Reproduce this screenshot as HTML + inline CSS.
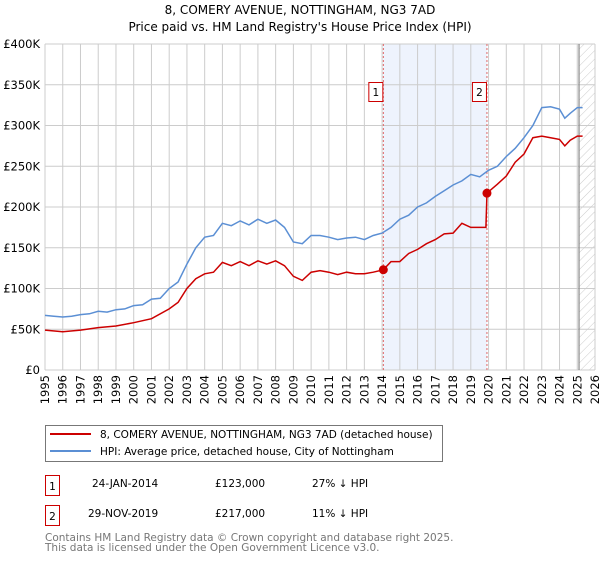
<!DOCTYPE html>
<html><head><meta charset="utf-8"><style>
body{margin:0;background:#fff;font-family:"DejaVu Sans","Liberation Sans",sans-serif;}
svg text{font-family:"DejaVu Sans","Liberation Sans",sans-serif;}
</style></head><body>
<svg id="c" width="600" height="560">
<defs><pattern id="hatch" width="6" height="6" patternUnits="userSpaceOnUse" patternTransform="rotate(45)"><line x1="0" y1="0" x2="0" y2="6" stroke="#ccc" stroke-width="1"/></pattern></defs>
<text x="300" y="14" text-anchor="middle" font-size="12">8, COMERY AVENUE, NOTTINGHAM, NG3 7AD</text>
<text x="300" y="31" text-anchor="middle" font-size="12">Price paid vs. HM Land Registry's House Price Index (HPI)</text>
<g id="plot"></g>
<g>
<rect x="45.5" y="425.5" width="397" height="36" fill="#fff" stroke="#777"/>
<line x1="50" y1="434" x2="91" y2="434" stroke="#cc0000" stroke-width="2"/>
<text x="100" y="438" font-size="10.5">8, COMERY AVENUE, NOTTINGHAM, NG3 7AD (detached house)</text>
<line x1="50" y1="451" x2="91" y2="451" stroke="#5b8fd4" stroke-width="2"/>
<text x="100" y="455" font-size="10.5">HPI: Average price, detached house, City of Nottingham</text>
</g>
<g font-size="10.5">
<rect x="45.5" y="475.5" width="14" height="20" fill="#fff" stroke="#cc0000"/>
<text x="52.5" y="490" text-anchor="middle">1</text>
<text x="92" y="487">24-JAN-2014</text><text x="215" y="487">£123,000</text><text x="312" y="487">27% ↓ HPI</text>
<rect x="45.5" y="505.5" width="14" height="20" fill="#fff" stroke="#cc0000"/>
<text x="52.5" y="520" text-anchor="middle">2</text>
<text x="88" y="517">29-NOV-2019</text><text x="215" y="517">£217,000</text><text x="312" y="517">11% ↓ HPI</text>
</g>
<text x="45" y="541" font-size="10.5" fill="#777">Contains HM Land Registry data © Crown copyright and database right 2025.</text>
<text x="45" y="551" font-size="10.5" fill="#777">This data is licensed under the Open Government Licence v3.0.</text>
</svg>
<script>
const yTicks=[0,50,100,150,200,250,300,350,400];
const yTickLabels=["£0","£50K","£100K","£150K","£200K","£250K","£300K","£350K","£400K"];
const xYears=[1995,1996,1997,1998,1999,2000,2001,2002,2003,2004,2005,2006,2007,2008,2009,2010,2011,2012,2013,2014,2015,2016,2017,2018,2019,2020,2021,2022,2023,2024,2025,2026];
const hpiT=[1995,1995.5,1996,1996.5,1997,1997.5,1998,1998.5,1999,1999.5,2000,2000.5,2001,2001.5,2002,2002.5,2003,2003.5,2004,2004.5,2005,2005.5,2006,2006.5,2007,2007.5,2008,2008.5,2009,2009.5,2010,2010.5,2011,2011.5,2012,2012.5,2013,2013.5,2014,2014.5,2015,2015.5,2016,2016.5,2017,2017.5,2018,2018.5,2019,2019.5,2020,2020.5,2021,2021.5,2022,2022.5,2023,2023.5,2024,2024.3,2024.6,2025,2025.3];
const hpiV=[67,66,65,66,68,69,72,71,74,75,79,80,87,88,100,108,130,150,163,165,180,177,183,178,185,180,184,175,157,155,165,165,163,160,162,163,160,165,168,175,185,190,200,205,213,220,227,232,240,237,245,250,262,272,285,300,322,323,320,309,315,322,322];
const priceT=[1995,1996,1997,1998,1999,2000,2001,2002,2002.5,2003,2003.5,2004,2004.5,2005,2005.5,2006,2006.5,2007,2007.5,2008,2008.5,2009,2009.5,2010,2010.5,2011,2011.5,2012,2012.5,2013,2013.5,2014.07,2014.5,2015,2015.5,2016,2016.5,2017,2017.5,2018,2018.5,2019,2019.85,2019.91,2020.5,2021,2021.5,2022,2022.5,2023,2023.5,2024,2024.3,2024.6,2025,2025.3];
const priceV=[49,47,49,52,54,58,63,75,83,100,112,118,120,132,128,133,128,134,130,134,128,115,110,120,122,120,117,120,118,118,120,123,133,133,143,148,155,160,167,168,180,175,175,217,228,238,255,265,285,287,285,283,275,282,287,287];
const saleT=[2014.07,2019.91];
const saleV=[123,217];
const saleLabels=["1","2"];
const X0=45,X1=595,Y0=370,Y1=44;
const xs=t=>X0+(t-1995)*(X1-X0)/31;
const ys=v=>Y0-v*(Y0-Y1)/400;
const NS="http://www.w3.org/2000/svg";
const g=document.getElementById('plot');
function mk(tag,at){const e=document.createElementNS(NS,tag);for(const k in at)e.setAttribute(k,at[k]);g.appendChild(e);return e;}
let e=mk('rect',{x:xs(saleT[0]),y:Y1,width:xs(saleT[1])-xs(saleT[0]),height:Y0-Y1,fill:'#eef3fd'});


e=mk('rect',{x:xs(2025.1),y:Y1,width:X1-xs(2025.1),height:Y0-Y1,fill:'url(#hatch)'});


yTicks.forEach((v,i)=>{
 const l=mk('line',{x1:X0,x2:X1,y1:ys(v),y2:ys(v),stroke:'#ccc'});
 
 
 const t=mk('text',{x:40,y:ys(v)+4,'text-anchor':'end','font-size':'11.5'});t.textContent=yTickLabels[i];
 
 
});
xYears.forEach(y=>{
 const l=mk('line',{x1:xs(y),x2:xs(y),y1:Y1,y2:Y0,stroke:'#ccc'});
 
 
 const t=mk('text',{x:0,y:0,'text-anchor':'end','font-size':'11.5',transform:`translate(${xs(y)+4},${Y0+5}) rotate(-90)`});t.textContent=y;
 
 
});
e=mk('line',{x1:xs(2025.1),x2:xs(2025.1),y1:Y1,y2:Y0,stroke:'#888','stroke-width':1.2});


saleT.forEach((t,i)=>{
 const l=mk('line',{x1:xs(t),x2:xs(t),y1:Y1,y2:Y0,stroke:'#e06666','stroke-dasharray':'2,2'});
 
 
 const r=mk('rect',{x:xs(t)-14.5,y:82.5,width:14,height:19,fill:'#fff',stroke:'#cc0000'});
 
 
 const tx=mk('text',{x:xs(t)-7.5,y:96,'text-anchor':'middle','font-size':'10.5'});tx.textContent=saleLabels[i];
 
 
});
e=mk('path',{d:hpiT.map((t,i)=>(i?'L':'M')+xs(t).toFixed(1)+','+ys(hpiV[i]).toFixed(1)).join(''),fill:'none',stroke:'#5b8fd4','stroke-width':1.5});


e=mk('path',{d:priceT.map((t,i)=>(i?'L':'M')+xs(t).toFixed(1)+','+ys(priceV[i]).toFixed(1)).join(''),fill:'none',stroke:'#cc0000','stroke-width':1.5});


saleT.forEach((t,i)=>{
 const c=mk('circle',{cx:xs(t),cy:ys(saleV[i]),r:4.5,fill:'#cc0000'});
 
 
});
</script>
</body></html>
